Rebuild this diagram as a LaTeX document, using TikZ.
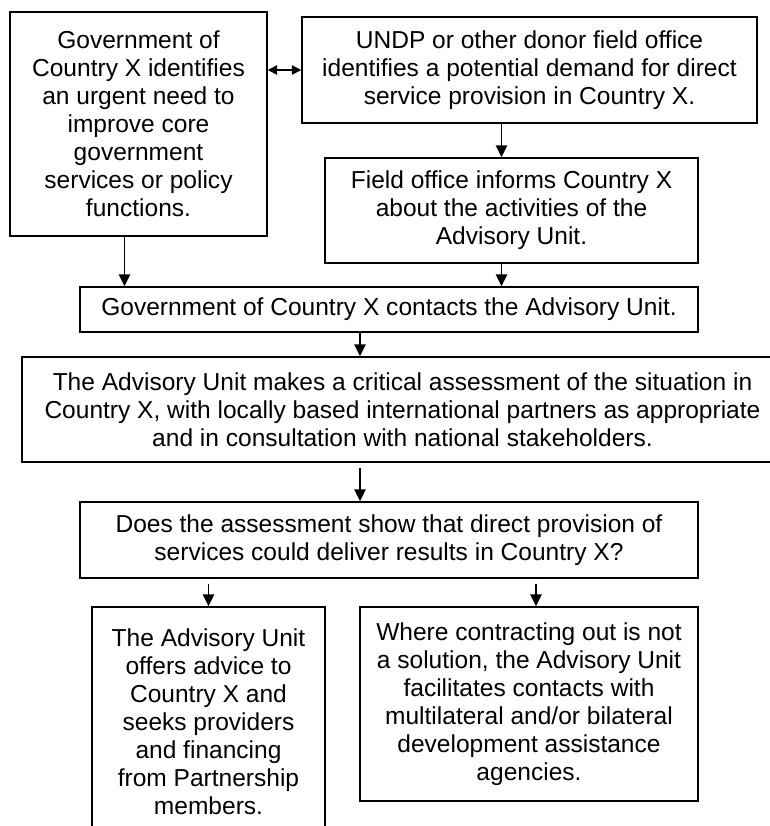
\documentclass[tikz,border=0pt]{standalone}
\usepackage{fontspec}
\setmainfont{Liberation Sans}
\usetikzlibrary{arrows.meta}
\begin{document}
\begin{tikzpicture}[x=0.75pt,y=-0.75pt,
  box/.style={draw=black, line width=1.1pt, inner sep=0pt, align=center,
    font=\fontsize{18.4pt}{21pt}\selectfont},
  arr/.style={line width=1.1pt, -{Triangle[length=9pt,width=8.5pt]}},
  darr/.style={line width=1.1pt, {Triangle[length=7pt,width=7pt]}-{Triangle[length=7pt,width=7pt]}}]
\path[use as bounding box, clip] (0,0) rectangle (770,826);
\fill[white] (0,0) rectangle (770,826);
\node[box, minimum width=192.75pt, minimum height=168pt] (A) at (138.5,124)
  {Government of\\Country X identifies\\an urgent need to\\improve core\\government\\services or policy\\functions.};
\node[box, minimum width=341.25pt, minimum height=79.5pt] (B) at (529.5,70)
  {UNDP or other donor field office\\identifies a potential demand for direct\\service provision in Country X.};
\node[box, minimum width=279.75pt, minimum height=78.75pt] (C) at (511.5,210.5)
  {Field office informs Country X\\about the activities of the\\Advisory Unit.};
\node[box, minimum width=463.5pt, minimum height=33.75pt] (D) at (389,309.5)
  {Government of Country X contacts the Advisory Unit.};
\node[box, minimum width=570.75pt, minimum height=78.75pt] (E) at (402.5,409.5)
  {The Advisory Unit makes a critical assessment of the situation in\\Country X, with locally based international partners as appropriate\\and in consultation with national stakeholders.};
\node[box, minimum width=463.5pt, minimum height=57pt] (F) at (389,540)
  {Does the assessment show that direct provision of\\services could deliver results in Country X?};
\node[box, minimum width=174.75pt, minimum height=171.75pt] (G) at (208.5,721.5)
  {The Advisory Unit\\offers advice to\\Country X and\\seeks providers\\and financing\\from Partnership\\members.};
\node[box, minimum width=253.5pt, minimum height=145.5pt] (H) at (529,704)
  {Where contracting out is not\\a solution, the Advisory Unit\\facilitates contacts with\\multilateral and/or bilateral\\development assistance\\agencies.};
% connectors
\draw[darr] (A.east |- B.west) -- (B.west);
\draw[arr] ([xshift=-10.5pt]A.south) -- ([xshift=-10.5pt]A.south |- D.north);
\draw[arr] ([xshift=-21pt]B.south) -- ([xshift=-21pt]B.south |- C.north);
\draw[arr] ([xshift=-7.5pt]C.south) -- ([xshift=-7.5pt]C.south |- D.north);
\draw[arr] ([xshift=-21.75pt]D.south) -- ([xshift=-21.75pt]D.south |- E.north);
\draw[arr, shorten <=3.75pt] ([xshift=-21.75pt]E.south -| D.south) -- ([xshift=-21.75pt]F.north);
\draw[arr, shorten <=3.75pt] (G.north |- F.south) -- (G.north);
\draw[arr, shorten <=3.75pt] ([xshift=5.25pt]H.north |- F.south) -- ([xshift=5.25pt]H.north);
\end{tikzpicture}
\end{document}
